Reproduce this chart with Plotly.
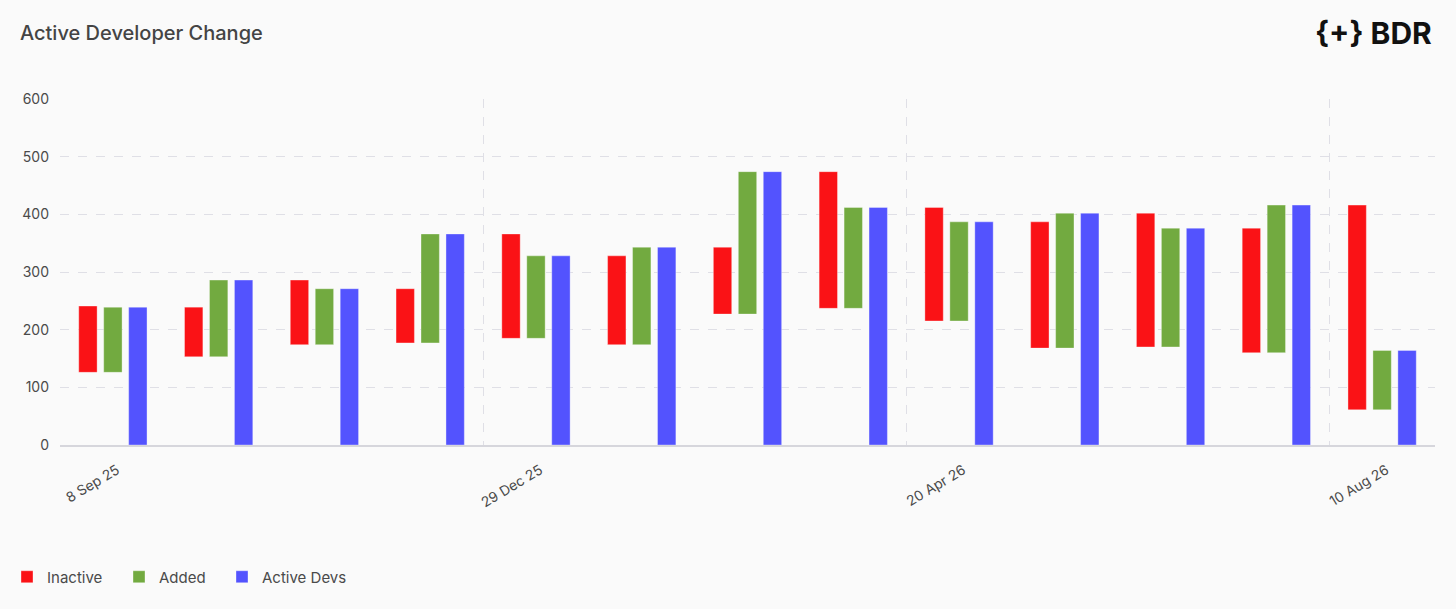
import plotly.graph_objects as go

# === DATA ===
period_start = [
    "2025-09-08", "2025-10-06", "2025-11-03", "2025-12-01", "2025-12-29",
    "2026-01-26", "2026-02-23", "2026-03-23", "2026-04-20", "2026-05-18",
    "2026-06-15", "2026-07-13", "2026-08-10",
]
inactive = [115, 86, 112, 94, 181, 154, 116, 237, 197, 219, 232, 216, 355]
added = [113, 133, 97, 189, 143, 169, 247, 175, 172, 234, 206, 256, 103]
active_devs = [239, 286, 271, 366, 328, 343, 474, 412, 387, 402, 376, 416, 164]

tick_dates = ["2025-09-08", "2025-12-29", "2026-04-20", "2026-08-10"]
tick_text = ["8 Sep 25", "29 Dec 25", "20 Apr 26", "10 Aug 26"]

# === STYLE ===
font_family = "Inter, 'Noto Sans', sans-serif"
text_col = "#4a4a4a"
grid_col = "#dfdfe6"
bg_col = "#fafafa"
red = "#fa1216"
green = "#72aa40"
blue = "#5353fe"
four_weeks = 28 * 24 * 3600 * 1000

# waterfall: inactive + added bars start where the previous total drops to
floor = [a - d for a, d in zip(active_devs, added)]

series = [
    ("Inactive", inactive, floor, red, "legend", 7),
    ("Added", added, floor, green, "legend2", 119),
    ("Active Devs", active_devs, [0] * len(active_devs), blue, "legend3", 222),
]

fig = go.Figure()
legends = {}
for name, heights, bases, col, leg, leg_x in series:
    fig.add_trace(go.Bar(
        x=period_start, y=heights, base=bases, name=name, legend=leg,
        xperiod=four_weeks, xperiod0=period_start[0], xperiodalignment="middle",
        marker=dict(color=col, line=dict(color="rgba(255,255,255,0.35)", width=1)),
    ))
    # one legend box per series so each entry can sit where the original has it
    legends[leg] = dict(orientation="h", xref="container", yref="container",
                        x=leg_x / 1456, xanchor="left", y=1 - 577 / 609, yanchor="middle",
                        bgcolor="rgba(0,0,0,0)", font=dict(size=15, color=text_col))

fig.update_layout(
    width=1456, height=609,
    paper_bgcolor=bg_col, plot_bgcolor=bg_col,
    font=dict(family=font_family, color=text_col, size=14),
    margin=dict(l=60, r=21, t=99, b=164),
    barmode="group", bargap=0.292, bargroupgap=0.264,
    title=dict(text="Active Developer Change", x=20 / 1456, xanchor="left",
               y=1 - 33 / 609, yanchor="middle",
               font=dict(size=20, color="#444444", family=font_family, weight=500)),
    showlegend=True,
    **legends,
    xaxis=dict(
        type="date", range=["2025-09-08", "2026-09-07"],
        tickvals=tick_dates, ticktext=tick_text, tickangle=-31,
        ticklabelshift=57, ticklabelstandoff=10,
        showgrid=True, gridcolor=grid_col, griddash="dash", gridwidth=1,
        showline=True, linecolor="#d6d6dc", linewidth=1.5,
        ticks="", tickfont=dict(size=14, color=text_col), zeroline=False,
    ),
    yaxis=dict(
        range=[0, 600], dtick=100, tick0=0,
        showgrid=True, gridcolor=grid_col, griddash="dash", gridwidth=1,
        zeroline=False, ticks="", ticklabelstandoff=10,
        tickfont=dict(size=14, color=text_col),
    ),
    annotations=[dict(
        text="<b>{+} BDR</b>", xref="paper", yref="paper",
        x=(1434 - 60) / (1435 - 60), xanchor="right",
        y=1 + (99 - 33) / 345, yanchor="middle", showarrow=False,
        font=dict(size=30, color="#111111", family=font_family),
    )],
)

# drop the browser's default page margin so the figure sits at 0,0
fig.write_html("out.html", config={"displayModeBar": False},
               post_script="document.body.style.margin='0';")
